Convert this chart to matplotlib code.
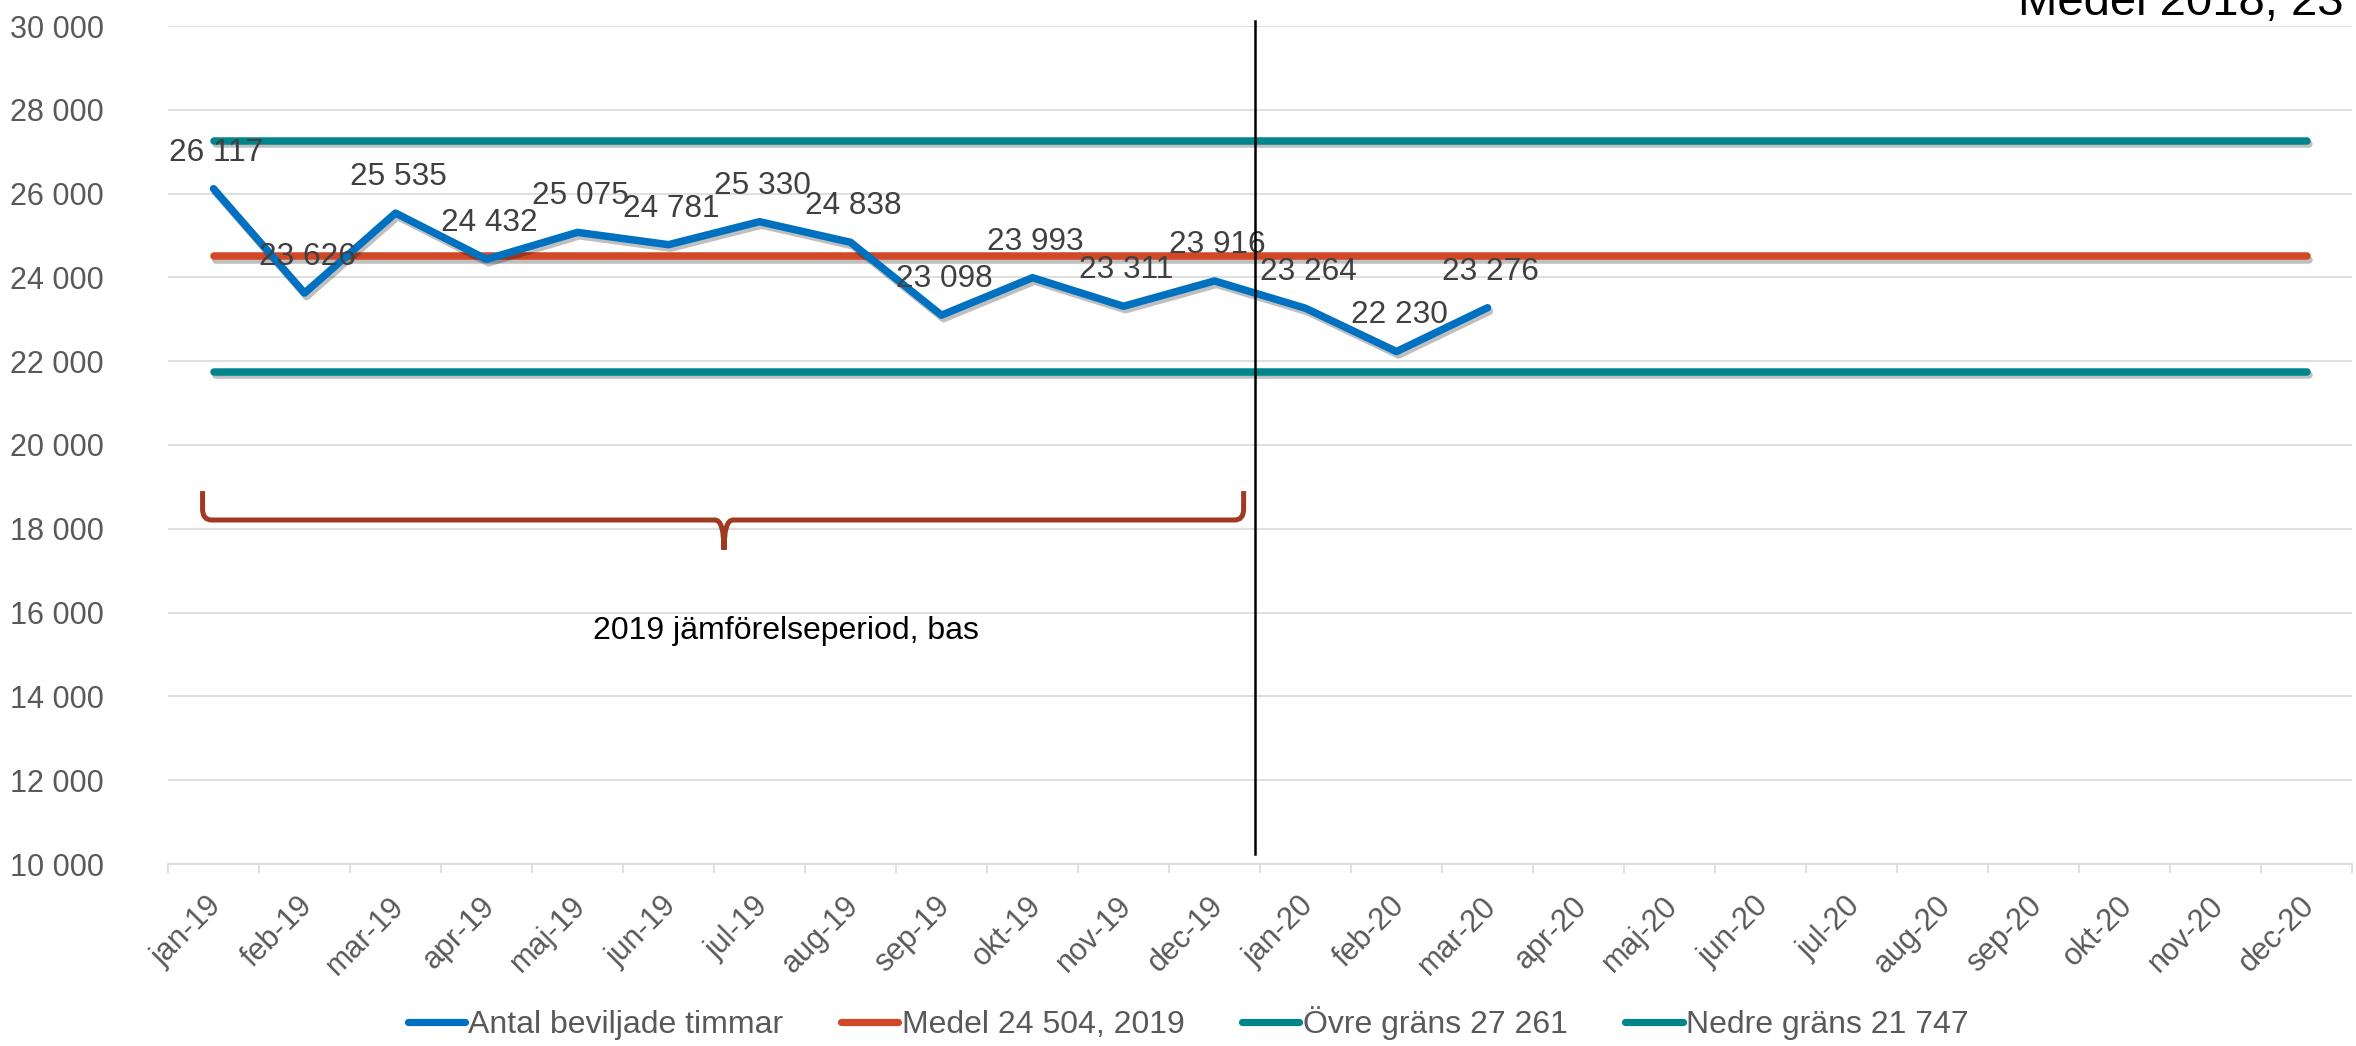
#!/usr/bin/env python3

import matplotlib
matplotlib.use('Agg')
import matplotlib.pyplot as plt
import matplotlib.patheffects as pe
from matplotlib.path import Path
from matplotlib.patches import PathPatch
from matplotlib.transforms import ScaledTranslation
import numpy as np

months = ['jan-19', 'feb-19', 'mar-19', 'apr-19', 'maj-19', 'jun-19',
          'jul-19', 'aug-19', 'sep-19', 'okt-19', 'nov-19', 'dec-19',
          'jan-20', 'feb-20', 'mar-20', 'apr-20', 'maj-20', 'jun-20',
          'jul-20', 'aug-20', 'sep-20', 'okt-20', 'nov-20', 'dec-20']
timmar = [26117, 23626, 25535, 24432, 25075, 24781, 25330, 24838,
          23098, 23993, 23311, 23916, 23264, 22230, 23276]
medel = 24504
ovre = 27261
nedre = 21747

labels = ['Antal beviljade timmar', 'Medel 24 504, 2019',
          'Övre gräns 27 261', 'Nedre gräns 21 747']
colors = ['#0070C0', '#D24726', '#00858C', '#00858C']

plt.rcParams['font.family'] = ['Liberation Sans', 'DejaVu Sans']

W, H = 2356, 1046
fig = plt.figure(figsize=(W / 100, H / 100), dpi=100)
ax = fig.add_axes([168 / W, 1 - 864 / H, (2352 - 168) / W, (864 - 26) / H])

def fmt(v):
    return f'{v:,}'.replace(',', ' ')

shadow = [pe.SimpleLineShadow(offset=(1.5, -2.5), shadow_color='black', alpha=0.25),
          pe.Normal()]

x_all = np.arange(len(months))
x_t = np.arange(len(timmar))
lw = 5.4
h1, = ax.plot(x_t, timmar, color=colors[0], lw=lw, solid_capstyle='round',
              solid_joinstyle='round', path_effects=shadow, zorder=5)
h2, = ax.plot(x_all, [medel] * len(months), color=colors[1], lw=lw,
              solid_capstyle='round', path_effects=shadow, zorder=4)
h3, = ax.plot(x_all, [ovre] * len(months), color=colors[2], lw=lw,
              solid_capstyle='round', path_effects=shadow, zorder=4)
h4, = ax.plot(x_all, [nedre] * len(months), color=colors[3], lw=lw,
              solid_capstyle='round', path_effects=shadow, zorder=4)

for xi, v in zip(x_t, timmar):
    ax.annotate(fmt(v), (xi, v), xytext=(2, 26), textcoords='offset points',
                ha='center', va='center', fontsize=22.7, color='#404040', zorder=6)

ax.set_xlim(-0.5, len(months) - 0.5)
ax.set_ylim(10000, 30000)
yt = np.arange(10000, 30001, 2000)
ax.set_yticks(yt)
ax.set_yticklabels([fmt(v) for v in yt])
ax.tick_params(axis='y', length=0, pad=46, labelsize=22, labelcolor='#595959')
ax.yaxis.grid(True, color='#D9D9D9', lw=1.2)
ax.set_axisbelow(True)

ax.set_xticks(x_all)
ax.set_xticklabels(months, rotation=45, ha='right', va='center',
                   rotation_mode='anchor')
ax.set_xticks(np.arange(-0.5, len(months)), minor=True)
ax.tick_params(axis='x', which='major', length=0, pad=27, labelsize=22,
               labelcolor='#595959')
ax.tick_params(axis='x', which='minor', length=6.5, width=1.2, color='#D9D9D9')
off = ScaledTranslation(4 / 100, 0, fig.dpi_scale_trans)
for lab in ax.get_xticklabels():
    lab.set_transform(lab.get_transform() + off)

for s in ['top', 'right', 'left']:
    ax.spines[s].set_visible(False)
ax.spines['bottom'].set_color('#D9D9D9')
ax.spines['bottom'].set_linewidth(1.2)

# separator between 2019 and 2020
ax.plot([11.44, 11.44], [10250, 30120], color='black', lw=1.8, clip_on=False, zorder=7)

# brace for the comparison period
x0, x1, xm = -0.12, 11.32, 5.61
ytop, ybar, ytip = 18900, 18210, 17500
dx, dy = 0.1, 260
verts = [(x0, ytop), (x0, ybar + dy), (x0, ybar), (x0 + dx, ybar),
         (xm - dx, ybar), (xm, ybar), (xm, ytip),
         (xm, ytip), (xm, ybar), (xm + dx, ybar),
         (x1 - dx, ybar), (x1, ybar), (x1, ybar + dy), (x1, ytop)]
codes = [Path.MOVETO, Path.LINETO, Path.CURVE3, Path.CURVE3,
         Path.LINETO, Path.CURVE3, Path.CURVE3,
         Path.MOVETO, Path.CURVE3, Path.CURVE3,
         Path.LINETO, Path.CURVE3, Path.CURVE3, Path.LINETO]
ax.add_patch(PathPatch(Path(verts, codes), fill=False, edgecolor='#A03A20',
                       lw=3.6, capstyle='butt', zorder=6))
ax.text(6.29, 15560, '2019 jämförelseperiod, bas', ha='center', va='center',
        fontsize=23, color='black')

fig.text(2018 / W, 1 - 15 / H, 'Medel 2018, 23', ha='left', va='baseline',
         fontsize=34, color='black')

fig.legend([h1, h2, h3, h4], labels, loc='center', ncol=4,
           bbox_to_anchor=(1188 / W, 1 - 1023 / H), frameon=False,
           fontsize=23, labelcolor='#595959', handlelength=1.8,
           handletextpad=0.1, columnspacing=1.8, borderpad=0)
for line in fig.legends[0].get_lines():
    line.set_linewidth(5.2)
    line.set_path_effects([])
    line.set_solid_capstyle('round')

fig.savefig('out.png', dpi=100)
